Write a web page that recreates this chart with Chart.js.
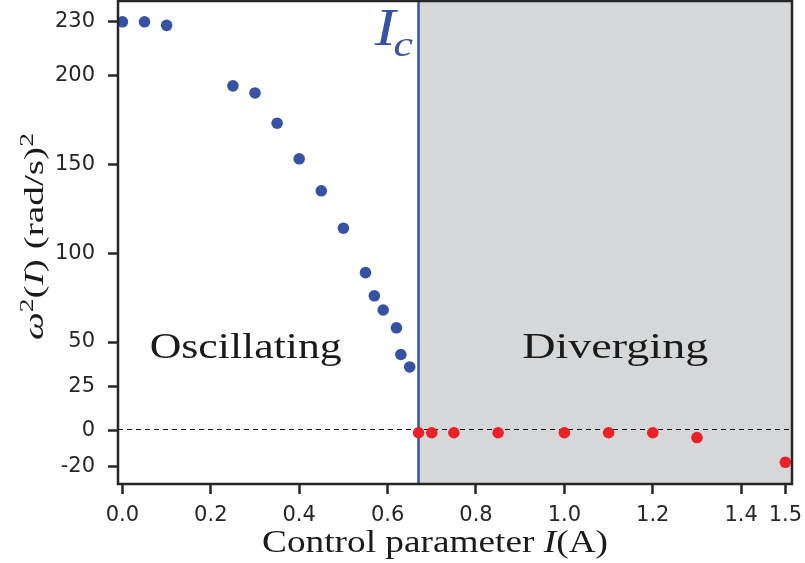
<!DOCTYPE html>
<html>
<head>
<meta charset="utf-8">
<script src="https://cdn.jsdelivr.net/npm/chart.js@4.4.1/dist/chart.umd.min.js"></script>
<style>
  html, body { margin: 0; padding: 0; background: #fff; }
</style>
</head>
<body>
<canvas id="chart" width="805" height="563"></canvas>
<script>
// ---- data ----
const oscCurrent = [0, 0.05, 0.1, 0.25, 0.3, 0.35, 0.4, 0.45, 0.5, 0.55, 0.57, 0.59, 0.62, 0.63, 0.65];
const oscOmega2 = [230, 230, 228, 194, 190, 173, 153, 135, 114, 89, 76, 68, 58, 43, 36];
const divCurrent = [0.67, 0.7, 0.75, 0.85, 1.0, 1.1, 1.2, 1.3, 1.5];
const divOmega2 = [-1, -1, -1, -1, -1, -1, -1, -3.7, -17.6];
const criticalCurrent = 0.67;
const xTicks = [0, 0.2, 0.4, 0.6, 0.8, 1.0, 1.2, 1.4, 1.5];
const yTicks = [-20, 0, 25, 50, 100, 150, 200, 230];

const BLUE = '#3552a3';
const RED = '#ea2228';
const GREY = '#d6d7d9';
const INK = '#262626';
const SERIF = "'Liberation Serif', 'Times New Roman', serif";

// ---- text helper: runs of plain / italic / sup / sub, stretched to a width ----
function runFont(r, size) {
  const s = (r.sup || r.sub) ? size * 0.7 : size;
  return (r.italic ? 'italic ' : '') + Math.round(s) + 'px ' + SERIF;
}
function drawRuns(ctx, runs, size, x, y, width, align, angle) {
  let total = 0;
  const widths = runs.map(r => {
    ctx.font = runFont(r, size);
    const w = ctx.measureText(r.t).width + (r.kern || 0);
    total += w;
    return w;
  });
  const sx = width ? width / total : 1;
  ctx.save();
  ctx.translate(x, y);
  if (angle) ctx.rotate(angle);
  ctx.scale(sx, 1);
  ctx.textAlign = 'left';
  ctx.textBaseline = 'alphabetic';
  let cx = align === 'center' ? -total / 2 : (align === 'right' ? -total : 0);
  runs.forEach((r, i) => {
    ctx.font = runFont(r, size);
    const dy = r.sup ? -size * 0.38 : (r.sub ? size * 0.22 : 0);
    ctx.fillText(r.t, cx, dy);
    cx += widths[i];
  });
  ctx.restore();
}

const regionPlugin = {
  id: 'regions',
  beforeDatasetsDraw(chart) {
    const { ctx, chartArea: a, scales: { x, y } } = chart;
    const xc = x.getPixelForValue(criticalCurrent);
    ctx.save();
    // diverging zone
    ctx.fillStyle = GREY;
    ctx.fillRect(xc, a.top, a.right - xc, a.bottom - a.top);
    // zero line
    const y0 = y.getPixelForValue(0);
    ctx.strokeStyle = '#111';
    ctx.lineWidth = 1.1;
    ctx.setLineDash([5, 4]);
    ctx.beginPath();
    ctx.moveTo(a.left, y0 - 1.5);
    ctx.lineTo(a.right, y0 - 1.5);
    ctx.stroke();
    ctx.setLineDash([]);
    // critical current
    ctx.strokeStyle = BLUE;
    ctx.lineWidth = 2.5;
    ctx.beginPath();
    ctx.moveTo(xc, a.top);
    ctx.lineTo(xc, a.bottom);
    ctx.stroke();
    ctx.restore();
  },
  afterDraw(chart) {
    const { ctx, chartArea: a, scales: { x, y } } = chart;
    ctx.save();
    // frame
    ctx.strokeStyle = INK;
    ctx.lineWidth = 2.5;
    ctx.strokeRect(a.left, a.top, a.right - a.left, a.bottom - a.top);

    // zone labels
    ctx.fillStyle = '#1a1a1a';
    drawRuns(ctx, [{ t: 'Oscillating' }], 35, x.getPixelForValue(0.279), y.getPixelForValue(41), 192, 'center');
    drawRuns(ctx, [{ t: 'Diverging' }], 35, x.getPixelForValue(1.115), y.getPixelForValue(41), 186, 'center');

    // I_c
    ctx.fillStyle = BLUE;
    drawRuns(ctx, [{ t: 'I', italic: true, kern: -2 }, { t: 'c', italic: true, sub: true }], 52,
      x.getPixelForValue(0.657), y.getPixelForValue(217), 38, 'right');

    // axis titles
    ctx.fillStyle = '#1a1a1a';
    drawRuns(ctx, [
      { t: 'Control parameter ' }, { t: 'I', italic: true }, { t: '(A)' }
    ], 31, 262, 552, 346, 'left');
    drawRuns(ctx, [
      { t: 'ω', italic: true }, { t: '2', sup: true }, { t: '(' }, { t: 'I', italic: true }, { t: ')' },
      { t: ' (rad/s)' }, { t: '2', sup: true }
    ], 27, 43, 340, 207, 'left', -Math.PI / 2);
    ctx.restore();
  }
};

const tickFont = { family: "'DejaVu Sans', sans-serif", size: 21 };

new Chart(document.getElementById('chart'), {
  type: 'scatter',
  data: {
    datasets: [
      {
        label: 'oscillating',
        data: oscCurrent.map((c, i) => ({ x: c, y: oscOmega2[i] })),
        backgroundColor: BLUE,
        borderWidth: 0,
        pointRadius: 5.8,
      },
      {
        label: 'diverging',
        data: divCurrent.map((c, i) => ({ x: c, y: divOmega2[i] })),
        backgroundColor: RED,
        borderWidth: 0,
        pointRadius: 5.8,
      }
    ]
  },
  options: {
    responsive: false,
    animation: false,
    devicePixelRatio: 1,
    // no extra room for point overflow, the frame sits right at the top
    layout: { autoPadding: false, padding: { top: 1, right: 13, left: 0, bottom: 0 } },
    plugins: { legend: { display: false }, tooltip: { enabled: false } },
    scales: {
      x: {
        type: 'linear',
        min: -0.01,
        max: 1.515,
        afterBuildTicks: s => { s.ticks = xTicks.map(v => ({ value: v })); },
        afterFit: s => { s.height = 79; s.paddingLeft = 0; s.paddingRight = 0; },
        border: { display: false },
        grid: { drawOnChartArea: false, drawTicks: true, tickLength: 10, tickWidth: 2.5, tickColor: INK },
        ticks: {
          padding: 9,
          color: INK,
          font: tickFont,
          maxRotation: 0,
          autoSkip: false,
          callback: v => v.toFixed(1),
        }
      },
      y: {
        type: 'linear',
        min: -29.8,
        max: 241.7,
        afterBuildTicks: s => { s.ticks = yTicks.map(v => ({ value: v })); },
        afterFit: s => { s.width = 118; s.paddingTop = 0; s.paddingBottom = 0; },
        border: { display: false },
        grid: { drawOnChartArea: false, drawTicks: true, tickLength: 10, tickWidth: 2.5, tickColor: INK },
        ticks: {
          padding: 13,
          color: INK,
          font: tickFont,
          autoSkip: false,
          callback: v => String(v),
        }
      }
    }
  },
  plugins: [regionPlugin]
});
</script>
</body>
</html>
